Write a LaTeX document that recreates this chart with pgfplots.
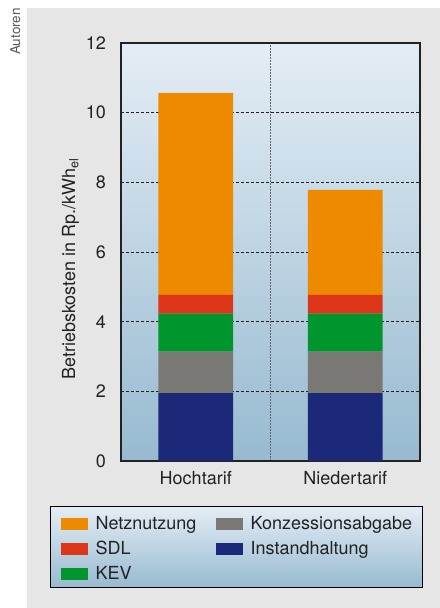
\documentclass[border=0pt]{standalone}
\usepackage{fontspec}
\setmainfont{TeX Gyre Heros}
\usepackage{pgfplots}
\pgfplotsset{compat=1.18}

\definecolor{netz}{RGB}{238,138,0}
\definecolor{sdl}{RGB}{220,53,24}
\definecolor{kev}{RGB}{0,150,45}
\definecolor{konz}{RGB}{122,120,116}
\definecolor{inst}{RGB}{28,40,120}
\definecolor{panel}{RGB}{230,230,230}
\definecolor{skytop}{RGB}{228,237,245}
\definecolor{skybot}{RGB}{151,186,208}
\definecolor{ink}{RGB}{34,34,34}

\begin{document}
\begin{tikzpicture}
\useasboundingbox (0,0) rectangle (440bp,608bp);
\fill[white] (0,0) rectangle (440bp,608bp);
\fill[panel] (27bp,0) rectangle (440bp,600bp);
\node[rotate=90, anchor=base, inner sep=0pt, font=\fontsize{13.5bp}{15bp}\selectfont, text=black!65]
  at (20bp,576.5bp) {Autoren};

\begin{axis}[
  at={(121bp,147bp)}, anchor=south west,
  scale only axis, width=299bp, height=418bp,
  ybar stacked, bar width=0.5,
  xmin=-0.5, xmax=1.5, ymin=0, ymax=12,
  xtick={0,1}, xticklabels={Hochtarif,Niedertarif},
  minor xtick={0.5}, xminorgrids=true,
  ytick={0,2,...,12}, ymajorgrids=true,
  major tick length=0pt, minor tick length=0pt,
  tick style={draw=none},
  major grid style={ink, dash pattern=on 3bp off 2bp, line width=0.8bp},
  minor grid style={black!60, dash pattern=on 2bp off 1bp, line width=1.3bp},
  axis line style={ink, line width=1.3bp},
  axis background/.style={top color=skytop, bottom color=skybot},
  font=\fontsize{18bp}{21bp}\selectfont,
  text=ink,
  /pgf/number format/assume math mode=true,
  yticklabel style={anchor=east, inner sep=0pt, xshift=-15bp},
  xticklabel style={anchor=base, inner sep=0pt, yshift=-24bp},
  ylabel={Betriebskosten in Rp./kWh\textsubscript{el}},
  ylabel style={at={(axis description cs:-0.1538,0.459)}, anchor=base, inner sep=0pt},
  legend columns=2,
  legend image code/.code={\fill[draw=none, #1] (0bp,0bp) rectangle (27bp,12bp);},
  legend style={at={(axis description cs:-0.2375,-0.1077)}, anchor=north west,
    draw=black, line width=1.2bp, top color=skytop, bottom color=skybot,
    inner xsep=10bp, inner ysep=4bp, row sep=2bp,
    cells={anchor=base west},
    nodes={inner sep=0pt, text height=19bp, text depth=4bp},
    /tikz/every odd column/.append style={column sep=8bp},
    /tikz/every even column/.append style={column sep=20bp}},
]
% stacked cost components, bottom to top
\addplot[fill=inst, draw=none, forget plot] coordinates {(0,1.95) (1,1.95)};
\addplot[fill=konz, draw=none, forget plot] coordinates {(0,1.19) (1,1.19)};
\addplot[fill=kev,  draw=none, forget plot] coordinates {(0,1.09) (1,1.09)};
\addplot[fill=sdl,  draw=none, forget plot] coordinates {(0,0.54) (1,0.54)};
\addplot[fill=netz, draw=none, forget plot] coordinates {(0,5.80) (1,3.01)};

% legend, filled row by row
\addlegendimage{fill=netz}
\addlegendentry{\makebox[100bp][l]{Netznutzung}}
\addlegendimage{fill=konz}
\addlegendentry{\makebox[162bp][l]{Konzessionsabgabe}}
\addlegendimage{fill=sdl}
\addlegendentry{\makebox[100bp][l]{SDL}}
\addlegendimage{fill=inst}
\addlegendentry{\makebox[162bp][l]{Instandhaltung}}
\addlegendimage{fill=kev}
\addlegendentry{\makebox[100bp][l]{KEV}}
\end{axis}
\end{tikzpicture}
\end{document}
